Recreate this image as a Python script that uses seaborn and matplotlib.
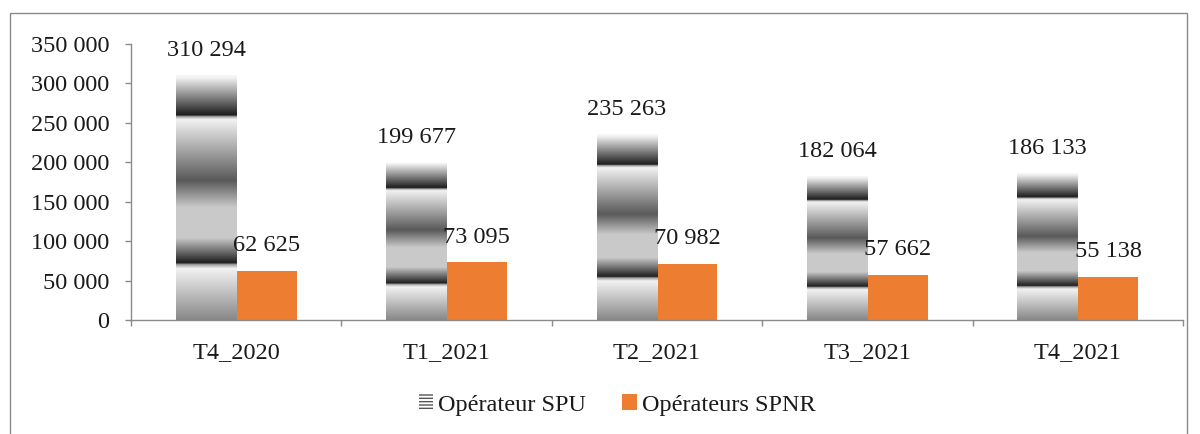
import numpy as np
import pandas as pd
import matplotlib
matplotlib.use("Agg")
import matplotlib.pyplot as plt
from matplotlib.patches import Patch, Rectangle
import seaborn as sns

# ---- data ----
categories = ["T4_2020", "T1_2021", "T2_2021", "T3_2021", "T4_2021"]
spu = [310294, 199677, 235263, 182064, 186133]
spnr = [62625, 73095, 70982, 57662, 55138]
series_names = ["Opérateur SPU", "Opérateurs SPNR"]
y_ticks = [0, 50000, 100000, 150000, 200000, 250000, 300000, 350000]

df = pd.DataFrame({
    "Période": categories * 2,
    "Série": [series_names[0]] * len(categories) + [series_names[1]] * len(categories),
    "Valeur": spu + spnr,
})

sns.set_theme(style="white")
plt.rcParams["font.family"] = ["Liberation Serif", "DejaVu Serif"]

GRAY = "#8a8a8a"
TXT = "#1a1a1a"
ORANGE = "#ED7D31"
FS = 17.5

fig = plt.figure(figsize=(12, 4.34), dpi=100)
ax = fig.add_axes([131 / 1200, 1 - 320 / 434, (1183 - 131) / 1200, (320 - 44) / 434])

sns.barplot(data=df, x="Période", y="Valeur", hue="Série", order=categories,
            hue_order=series_names,
            palette={series_names[0]: "#bbbbbb", series_names[1]: ORANGE},
            width=0.575, saturation=1, legend=False, ax=ax, linewidth=0)

# gradient texture for SPU bars (stops: fraction from top, gray level)
stops_pos = [0.0, 0.01, 0.163, 0.168, 0.18, 0.43, 0.54, 0.665, 0.767, 0.773, 0.79, 1.0]
stops_val = [0.97, 0.95, 0.11, 0.6, 0.95, 0.35, 0.79, 0.79, 0.12, 0.6, 0.95, 0.53]
rows = np.linspace(0, 1, 600)
g = np.interp(rows, stops_pos, stops_val)
grad = np.repeat(g[:, None, None], 3, axis=2)

for bar in ax.containers[0]:
    x0 = bar.get_x()
    w = bar.get_width()
    h = bar.get_height()
    im = ax.imshow(grad, extent=[x0, x0 + w, 0, h], aspect="auto",
                   interpolation="bilinear", zorder=bar.get_zorder() + 0.1)
    im.set_clip_path(bar)
    bar.set_facecolor("none")

fmt = lambda v: f"{int(v):,}".replace(",", " ")
for cont, vals in zip(ax.containers, [spu, spnr]):
    ax.bar_label(cont, labels=[fmt(v) for v in vals], padding=10.5,
                 fontsize=FS, color=TXT, zorder=5)

ax.set_xlim(-0.5, len(categories) - 0.5)
ax.set_ylim(0, 350000)
ax.set_yticks(y_ticks)
ax.set_yticklabels([fmt(v) for v in y_ticks])
ax.set_xticks(range(len(categories)))
ax.set_xticklabels(categories)
ax.set_xticks(np.arange(-0.5, len(categories), 1), minor=True)
ax.set_xlabel("")
ax.set_ylabel("")

for s in ["top", "right"]:
    ax.spines[s].set_visible(False)
for s in ["left", "bottom"]:
    ax.spines[s].set_color(GRAY)
    ax.spines[s].set_linewidth(1)

ax.tick_params(axis="y", which="major", length=4.5, width=1, color=GRAY,
               labelsize=FS, labelcolor=TXT, pad=11, left=True)
ax.tick_params(axis="x", which="major", length=0, labelsize=FS,
               labelcolor=TXT, pad=16)
ax.tick_params(axis="x", which="minor", length=4.5, width=1, color=GRAY,
               bottom=True)

handles = [
    Patch(facecolor="white", edgecolor="#555555", hatch="-----", linewidth=0,
          label=series_names[0]),
    Patch(facecolor=ORANGE, edgecolor=ORANGE, linewidth=0, label=series_names[1]),
]
fig.legend(handles=handles, loc="center", bbox_to_anchor=(617 / 1200, 1 - 405 / 434),
           ncol=2, frameon=False, fontsize=FS, handlelength=0.6, handleheight=0.6,
           handletextpad=0.2, columnspacing=1.5, labelcolor=TXT)

fig.patches.append(Rectangle((10 / 1200, -0.02), (1187 - 10) / 1200, 1 - 13 / 434 + 0.02,
                             transform=fig.transFigure, fill=False,
                             edgecolor=GRAY, linewidth=1))

fig.savefig("out.png", dpi=100)
